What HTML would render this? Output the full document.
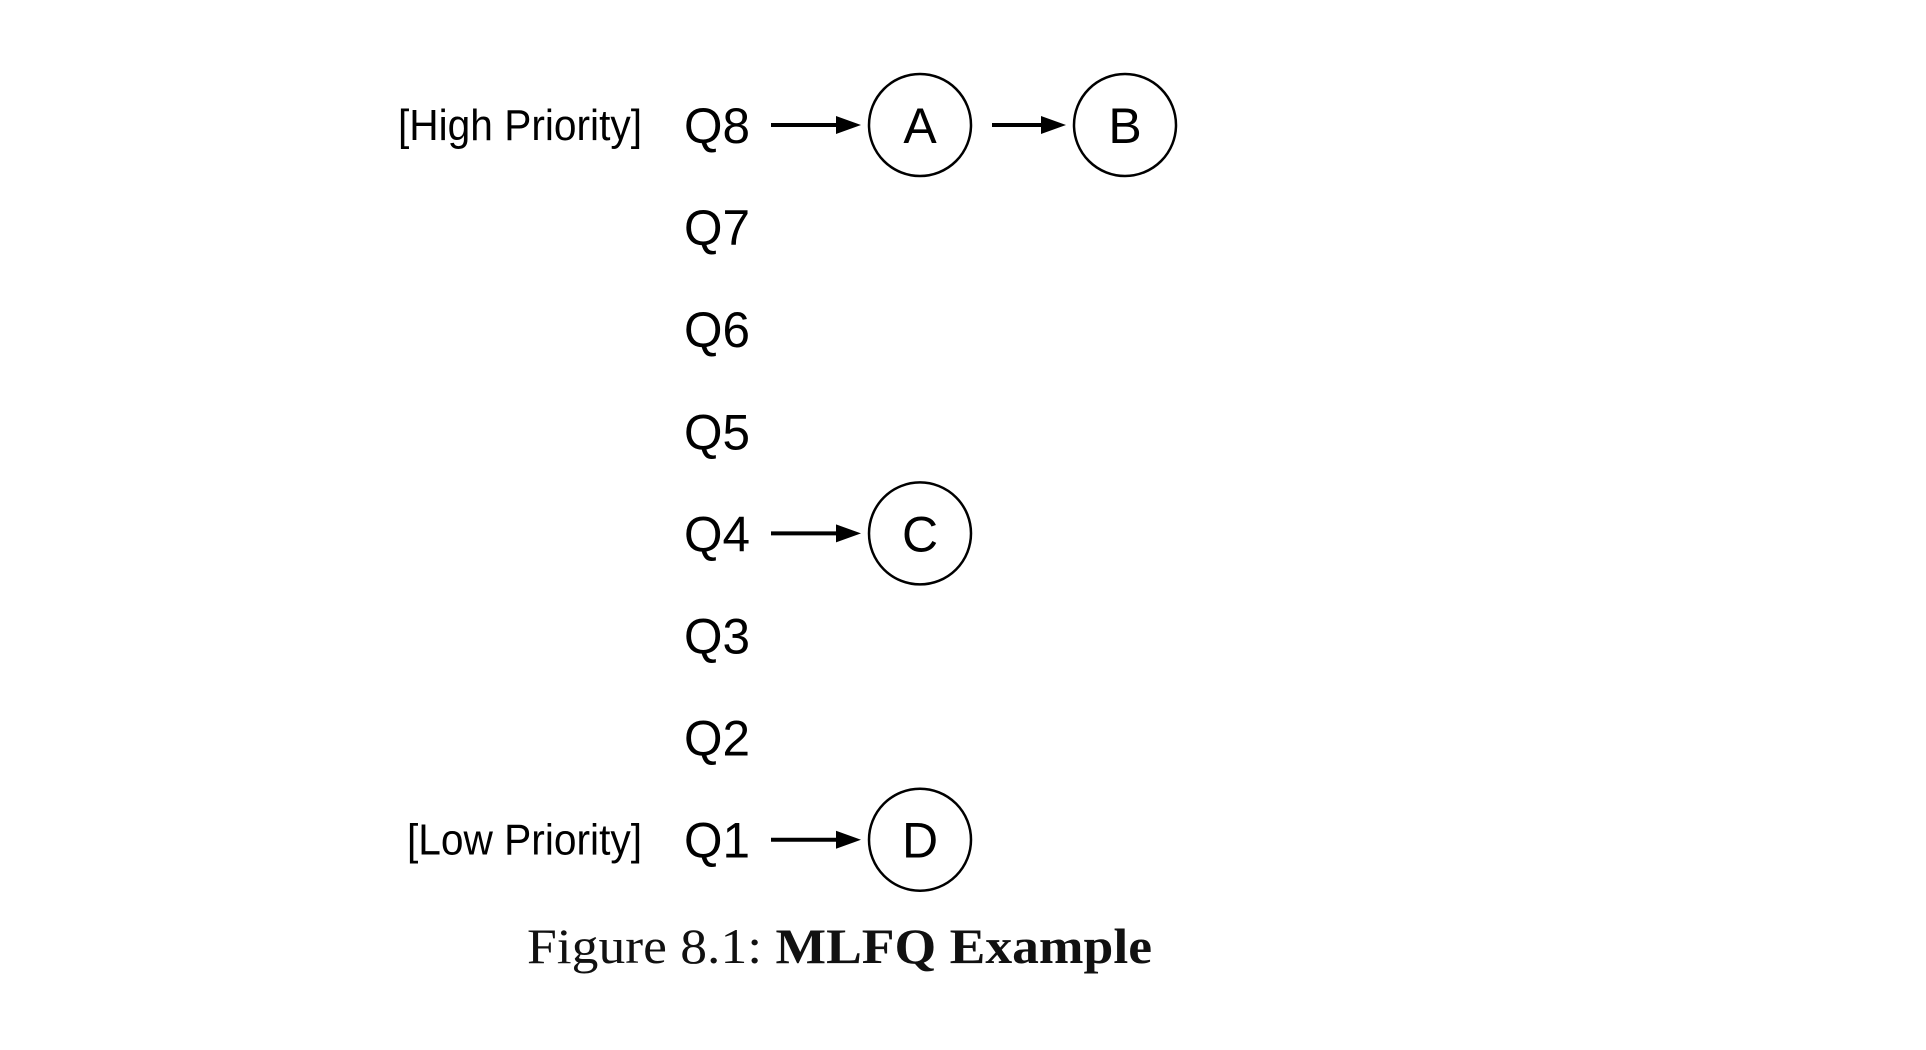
<!DOCTYPE html>
<html><head><meta charset="utf-8"><style>
html,body{margin:0;padding:0;background:#fff;}
svg{display:block;}
</style></head><body>
<svg width="1926" height="1050" viewBox="0 0 1926 1050">
<g id="rows"></g>
<text x="527" y="963" font-family="'Liberation Serif',serif" font-size="50" textLength="625" lengthAdjust="spacingAndGlyphs" fill="#111">Figure 8.1: <tspan font-weight="bold">MLFQ Example</tspan></text>
</svg>
<script>
const queues = ['Q8','Q7','Q6','Q5','Q4','Q3','Q2','Q1'];
const jobs = [['A','B'],[],[],[],['C'],[],[],['D']];
const sideLabels = {0:'[High Priority]',7:'[Low Priority]'};
const NS='http://www.w3.org/2000/svg';
const g=document.getElementById('rows');
function yAt(i){return 125+i*102.1;}
function mk(t,a){const e=document.createElementNS(NS,t);for(const k in a)e.setAttribute(k,a[k]);g.appendChild(e);return e;}
queues.forEach((q,i)=>{
  const y=yAt(i);
  const t=mk('text',{x:684,y:y+18,'font-family':"'Liberation Sans',sans-serif",'font-size':50,fill:'#000',textLength:66,lengthAdjust:'spacingAndGlyphs'});
  t.textContent=q;
  
  
  if(sideLabels[i]){
    const s=mk('text',{x:642,y:y+15,'text-anchor':'end','font-family':"'Liberation Sans',sans-serif",'font-size':44,fill:'#000',textLength:i===0?244:235,lengthAdjust:'spacingAndGlyphs'});
    s.textContent=sideLabels[i];
    
    
  }
  let prevX=null;
  jobs[i].forEach((j,k)=>{
    const cx=920+k*205;
    const x1=k===0?771:prevX+72, tip=cx-59;
    const l=mk('line',{x1:x1,y1:y,x2:tip-20,y2:y,stroke:'#000','stroke-width':4});
    
    
    const h=mk('polygon',{points:(tip-25)+','+(y-9)+' '+tip+','+y+' '+(tip-25)+','+(y+9),fill:'#000'});
    
    
    const c=mk('circle',{cx:cx,cy:y,r:51,fill:'none',stroke:'#000','stroke-width':2.5});
    
    
    const tt=mk('text',{x:cx,y:y+18,'text-anchor':'middle','font-family':"'Liberation Sans',sans-serif",'font-size':50,fill:'#000'});
    tt.textContent=j;
    
    
    prevX=cx;
  });
});
</script>
</body></html>
